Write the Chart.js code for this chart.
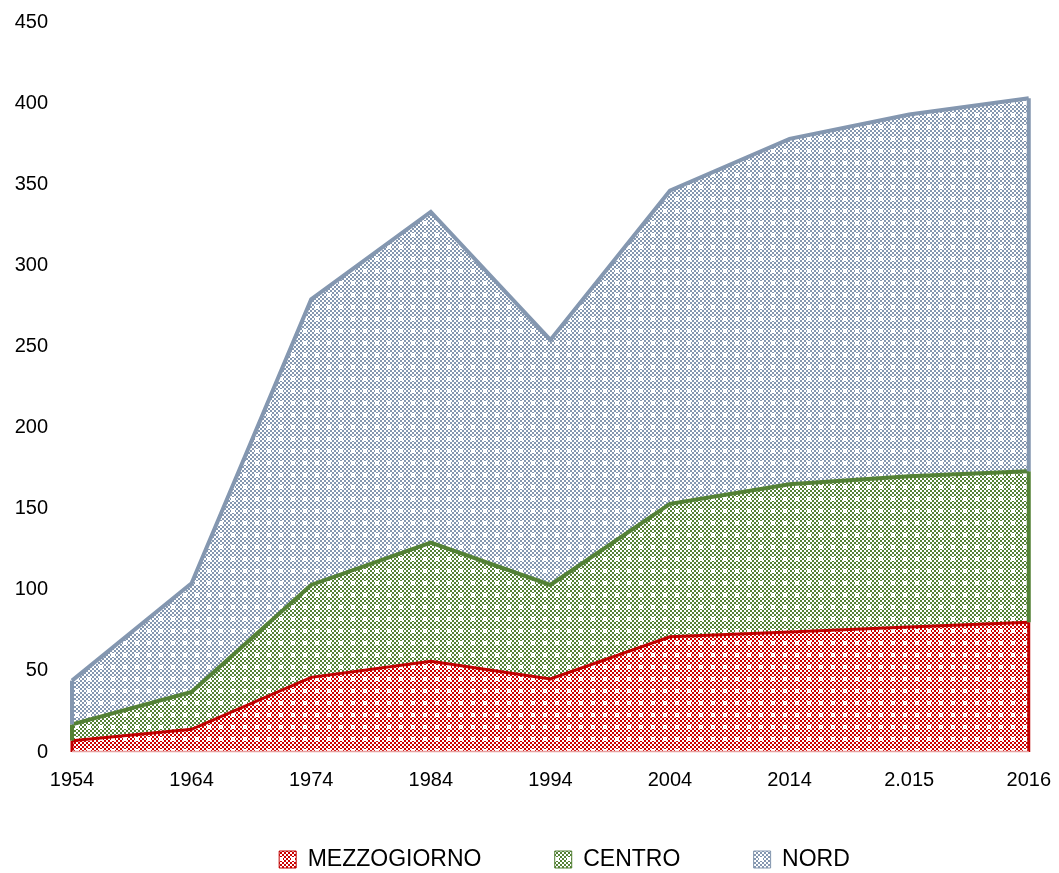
<!DOCTYPE html>
<html lang="it">
<head>
    <meta charset="UTF-8">
    <title>Mezzogiorno Centro Nord</title>
    <script src="https://cdn.jsdelivr.net/npm/chart.js"></script>
    <style>
        body {
            margin: 0;
            background-color: white;
        }
        #wrap {
            width: 1059px;
            height: 873px;
        }
    </style>
</head>
<body>
    <div id="wrap"><canvas id="areaChart"></canvas></div>
    <script>
        const anni = ["1954", "1964", "1974", "1984", "1994", "2004", "2014", "2.015", "2016"];
        const mezzogiorno = [7, 14, 46, 56, 45, 71, 74, 77, 80];
        const centro = [10, 23, 57, 73, 58, 82, 91, 93, 93];
        const nord = [27, 67, 176, 204, 151, 193, 213, 223, 230];
        const yTicks = [0, 50, 100, 150, 200, 250, 300, 350, 400, 450];

        const fontName = "'Liberation Sans', Arial, sans-serif";

        // checkerboard with small white crosses, like the excel pattern fill
        function makePattern(color) {
            const c = document.createElement("canvas");
            c.width = 12;
            c.height = 12;
            const g = c.getContext("2d");
            g.fillStyle = "white";
            g.fillRect(0, 0, 12, 12);
            g.fillStyle = color;
            for (let cy = 0; cy < 6; cy++) {
                for (let cx = 0; cx < 6; cx++) {
                    if ((cx + cy) % 2 === 0) g.fillRect(cx * 2, cy * 2, 2, 2);
                }
            }
            g.fillStyle = "white";
            g.fillRect(3, 6, 4, 2);
            g.fillRect(4, 5, 2, 4);
            return g.createPattern(c, "repeat");
        }

        // excel closes the area outline at both ends
        const edgePlugin = {
            id: "edges",
            afterDatasetsDraw(chart) {
                const g = chart.ctx;
                const x = chart.scales.x;
                const y = chart.scales.y;
                const last = anni.length - 1;
                g.save();
                chart.data.datasets.forEach((ds, i) => {
                    [0, last].forEach(idx => {
                        let lo = 0;
                        for (let k = 0; k < i; k++) lo += chart.data.datasets[k].data[idx];
                        const hi = lo + ds.data[idx];
                        const px = x.getPixelForValue(idx);
                        g.strokeStyle = ds.borderColor;
                        g.lineWidth = i === 0 ? 3 : 4;
                        g.beginPath();
                        g.moveTo(px, y.getPixelForValue(lo));
                        g.lineTo(px, y.getPixelForValue(hi));
                        g.stroke();
                    });
                });
                g.strokeStyle = "#e8a0a0";
                g.lineWidth = 1.5;
                g.beginPath();
                g.moveTo(x.getPixelForValue(0), y.getPixelForValue(0) - 0.5);
                g.lineTo(x.getPixelForValue(last), y.getPixelForValue(0) - 0.5);
                g.stroke();
                g.restore();
            }
        };

        // move the legend a little right and down, as in the original
        const legendShift = {
            id: "legendShift",
            afterLayout(chart) {
                const lg = chart.legend;
                lg.left += 35;
                lg.right += 35;
                lg.top += 8;
                lg.bottom += 8;
            }
        };

        const gap = "           ";

        const ctx = document.getElementById("areaChart").getContext("2d");
        const chart = new Chart(ctx, {
            type: "line",
            data: {
                labels: anni,
                datasets: [
                    {
                        label: "MEZZOGIORNO",
                        data: mezzogiorno,
                        borderColor: "#c00000",
                        backgroundColor: makePattern("#cc0000"),
                        borderWidth: 3,
                        pointRadius: 0,
                        fill: "origin"
                    },
                    {
                        label: "CENTRO",
                        data: centro,
                        borderColor: "#538135",
                        backgroundColor: makePattern("#538135"),
                        borderWidth: 4,
                        pointRadius: 0,
                        fill: "-1"
                    },
                    {
                        label: "NORD",
                        data: nord,
                        borderColor: "#8497b0",
                        backgroundColor: makePattern("#8497b0"),
                        borderWidth: 4,
                        pointRadius: 0,
                        fill: "-1"
                    }
                ]
            },
            options: {
                responsive: true,
                maintainAspectRatio: false,
                animation: false,
                layout: {
                    padding: { top: 22, right: 0, left: 0, bottom: 0 }
                },
                plugins: {
                    legend: {
                        position: "bottom",
                        labels: {
                            color: "#000",
                            font: { family: fontName, size: 23 },
                            boxWidth: 17,
                            boxHeight: 17,
                            padding: 3,
                            generateLabels: (ch) => {
                                const items = Chart.defaults.plugins.legend.labels.generateLabels(ch);
                                items.forEach((it, i) => {
                                    it.lineWidth = 1;
                                    if (i < items.length - 1) it.text = it.text + gap;
                                });
                                return items;
                            }
                        }
                    },
                    tooltip: { enabled: false }
                },
                scales: {
                    x: {
                        offset: false,
                        grid: { display: false },
                        border: { display: false },
                        afterFit: (scale) => { scale.height = 85; },
                        ticks: {
                            color: "#000",
                            font: { family: fontName, size: 20 },
                            maxRotation: 0,
                            padding: 8
                        }
                    },
                    y: {
                        stacked: true,
                        min: 0,
                        max: 450,
                        grid: { display: false },
                        border: { display: false },
                        afterFit: (scale) => {
                            scale.width = 72;
                            scale.paddingTop = 0;
                        },
                        afterBuildTicks: (axis) => {
                            axis.ticks = yTicks.map(v => ({ value: v }));
                        },
                        ticks: {
                            color: "#000",
                            font: { family: fontName, size: 20 },
                            padding: 16
                        }
                    }
                }
            },
            plugins: [edgePlugin, legendShift]
        });
    </script>
</body>
</html>
